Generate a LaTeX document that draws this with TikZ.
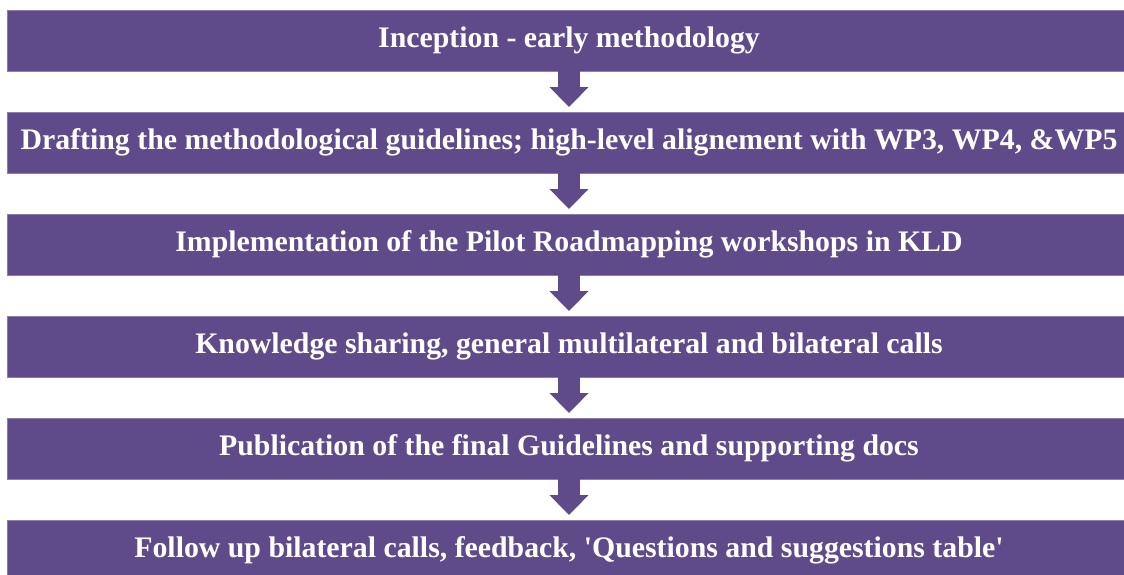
\documentclass[tikz,border=0pt]{standalone}
\usepackage{fontspec}
\setmainfont{Liberation Serif}
\usetikzlibrary{positioning,arrows.meta}

\definecolor{stepfill}{HTML}{5F4B8A}
\definecolor{stepline}{HTML}{8B7BAE}

\tikzset{
  stage/.style={rectangle, fill=stepfill, draw=stepline, line width=0.8pt,
    minimum width=1124pt, minimum height=61pt, inner sep=0pt, outer sep=0pt,
    text=white, font=\fontsize{29.8}{36}\selectfont\bfseries},
  flow/.style={draw=stepfill, line width=22pt, shorten >=5pt,
    -{Triangle[width=38pt,length=20pt]}}
}

\begin{document}
\begin{tikzpicture}[node distance=41pt]

  \clip (0,0) rectangle (1124pt,-574pt);
  \fill[white] (0,0) rectangle (1124pt,-574pt);

  % Define nodes
  \node[stage] at (569pt,-40.5pt) (inc) {Inception - early methodology};
  \node[stage, below=of inc]    (draft)  {Drafting the methodological guidelines; high-level alignement with WP3, WP4, \&WP5};
  \node[stage, below=of draft]  (pilot)  {Implementation of the Pilot Roadmapping workshops in KLD};
  \node[stage, below=of pilot]  (share)  {Knowledge sharing, general multilateral and bilateral calls};
  \node[stage, below=of share]  (pub)    {Publication of the final Guidelines and supporting docs};
  \node[stage, below=of pub]    (follow) {Follow up bilateral calls, feedback, \textquotesingle Questions and suggestions table\textquotesingle};

  % Connect the nodes
  \draw[flow] (inc) -- (draft);
  \draw[flow] (draft) -- (pilot);
  \draw[flow] (pilot) -- (share);
  \draw[flow] (share) -- (pub);
  \draw[flow] (pub) -- (follow);
\end{tikzpicture}
\end{document}
